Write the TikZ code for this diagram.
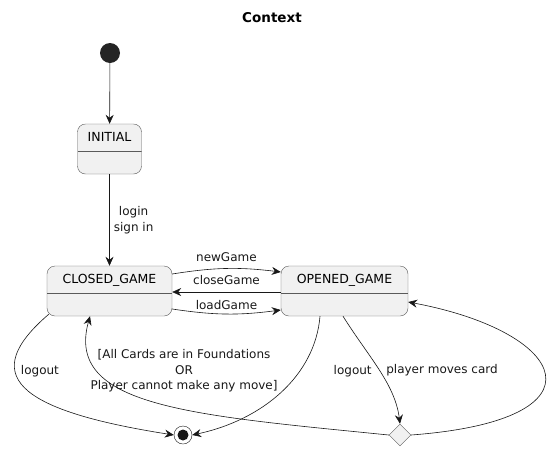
\documentclass[tikz,border=0pt]{standalone}
\usepackage{fontspec}
\setmainfont{DejaVu Sans}
\usetikzlibrary{arrows.meta,positioning,shapes.geometric,calc}
\definecolor{StateFill}{HTML}{F1F1F1}
\definecolor{StateLine}{HTML}{5A5A5A}
\definecolor{ArrowInk}{HTML}{181818}

\begin{document}
\begin{tikzpicture}[x=1pt, y=-1pt,
  state/.style={draw=StateLine, rounded corners=8pt, fill=StateFill, minimum height=50pt,
    inner sep=0pt, text height=9pt, text depth=24pt, font=\fontsize{12.5}{15}\selectfont,
    path picture={\draw[StateLine] ([yshift=-27pt]path picture bounding box.north west) -- ([yshift=-27pt]path picture bounding box.north east);}},
  txt/.style={font=\fontsize{12}{15.5}\selectfont, align=center, inner sep=2pt},
  arr/.style={-{Stealth[length=9pt, width=8pt, inset=3pt]}, ArrowInk, line width=0.6pt}
]
\useasboundingbox (0,0) rectangle (557,453);
\node[font=\bfseries\fontsize{13.5}{16}\selectfont] (title) at (272,18) {Context};
\node[circle, fill=ArrowInk!95, minimum size=20pt, inner sep=0pt] (start) at (110,53) {};
\node[state, minimum width=64pt] (initial) at (109.5,149) {INITIAL};
\node[state, minimum width=125pt] (closed) at (109.5,291) {CLOSED\_GAME};
\node[state, minimum width=127pt] (opened) at (344.5,291) {OPENED\_GAME};
\node[circle, draw=ArrowInk, minimum size=18pt, inner sep=0pt,
  path picture={\fill[ArrowInk] (path picture bounding box.center) circle (5.5pt);}] (final) at (183,435) {};
\node[diamond, draw=StateLine, fill=StateFill, minimum size=22pt, inner sep=0pt] (choice) at (400,435) {};

\draw[arr] (start) -- (initial);
\draw[arr] (initial) -- node[txt, right, xshift=2pt] {login\\sign in} (closed);
\draw[arr] ([yshift=17pt]closed.east) to[bend left=8] node[txt, above, yshift=5pt] {newGame} ([yshift=19pt]opened.west);
\draw[arr] ([yshift=-1pt]opened.west) -- node[txt, above, yshift=5pt] {closeGame} ([yshift=-1pt]closed.east);
\draw[arr] ([yshift=-18pt]closed.east) to[bend right=8] node[txt, above, yshift=2pt] {loadGame} ([yshift=-19pt]opened.west);
\draw[arr] ([xshift=2pt, yshift=2pt]closed.south west) .. controls +(-70,60) and +(-160,-25) .. (final.west)
  node[txt, pos=0.3, anchor=west, xshift=4pt, yshift=-9pt] {logout};
\draw[arr] ([xshift=-24.5pt]opened.south) .. controls +(-5,60) and +(70,-15) .. (final.east)
  node[txt, pos=0.3, anchor=west, xshift=28pt, yshift=-6pt] {logout};
\draw[arr] ([xshift=-1.5pt]opened.south) .. controls +(25,40) and +(-5,-40) .. (choice.north)
  node[txt, pos=0.5, anchor=west, xshift=5pt] {player moves card};
\draw[arr] (choice.east) .. controls +(200,-15) and +(160,30) .. ([yshift=-11pt]opened.east);
\draw[arr] (choice.west) .. controls +(-200,-20) and +(-25,90) .. ([xshift=-19.5pt]closed.south)
  node[txt, pos=0.4, anchor=south, yshift=16pt, xshift=-6pt] {[All Cards are in Foundations\\OR\\Player cannot make any move]};
\end{tikzpicture}
\end{document}
